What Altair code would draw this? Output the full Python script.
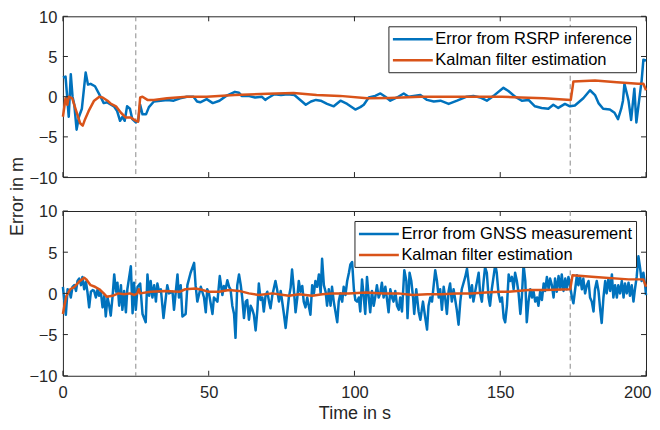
import altair as alt
import pandas as pd

BLUE = "#0072BD"
ORANGE = "#D95319"
AXC = "#262626"
KAL = "Kalman filter estimation"
RSRP_NAME = "Error from RSRP inference"
GNSS_NAME = "Error from GNSS measurement"

X_TICKS = [0, 50, 100, 150, 200]
Y_TICKS = [-10, -5, 0, 5, 10]
EVENT_LINES = [25, 174]

# ---- top panel: RSRP error ----
rsrp_t = [0, 0.9, 2.0, 2.7, 3.3, 3.9, 4.7, 5.5, 6.5, 7.8,
          8.6, 9.5, 11.0, 12.9, 14.0, 15.2, 17.5, 18.6, 19.6, 20.4,
          21.2, 22.0, 23.0, 23.8, 25.0, 25.8, 26.5, 27.3, 28.5, 29.5,
          31.2, 33.5, 35.8, 38.0, 40.2, 42.5, 44.8, 46.0, 47.1, 49.3,
          51.4, 53.7, 56.0, 59.0, 60.4, 61.3, 63.6, 65.9, 68.2, 69.4,
          70.2, 72.5, 74.8, 77.1, 79.4, 81.7, 83.3, 85.1, 86.8, 88.4,
          90.6, 92.9, 95.2, 97.5, 100.3, 102.0, 103.2, 104.9, 107.1, 108.9,
          110.6, 112.3, 114.6, 116.9, 118.6, 120.3, 122.6, 124.9, 127.2, 129.5,
          132.3, 135.2, 138.5, 140.8, 143.1, 145.4, 147.7, 151.1, 152.8, 155.1,
          157.4, 159.7, 161.9, 164.2, 166.5, 168.2, 169.9, 172.2, 173.9, 175.6,
          178.5, 180.8, 182.5, 183.7, 185.3, 187.6, 189.2, 190.4, 191.5, 192.1,
          192.6, 193.7, 194.0, 194.9, 196.0, 196.7, 197.8, 198.5, 199.1, 200.0]
rsrp_v = [2.4, 2.5, -2.5, 2.8, 0.0, -1.0, -4.1, -2.5, -1.5, 3.0,
          1.5, 1.6, 1.3, 0.0, -0.8, -0.7, -1.2, -1.8, -3.0, -2.5,
          -3.0, -1.2, -1.5, -2.8, -3.2, -3.0, -1.0, -2.2, -2.2, -1.3,
          -0.6, -0.5, -0.4, -0.5, -0.2, 0.0, 0.0, -0.6, -0.7, -0.3,
          -0.8, -0.5, 0.1, 0.6, 0.5, 0.1, 0.1, -0.1, 0.0, -0.4,
          -0.2, 0.3, 0.2, 0.3, 0.2, -0.5, -1.0, -0.6, -0.4, -0.5,
          -0.9, -1.2, -0.5, -0.9, -1.6, -1.3, -1.0, -0.1, 0.1, 0.4,
          0.0, -0.5, -0.1, 0.4, 0.0, 0.1, 0.2, -0.4, -0.6, -0.5,
          -0.9, -0.5, 0.0, 0.1, -0.1, -0.5, 0.1, 1.1, 0.7, 0.0,
          -0.5, -0.4, -1.2, -1.4, -1.5, -1.0, -1.4, -0.9, -1.2, -1.1,
          -0.2, 0.8, 0.2, -0.8, -1.5, -1.6, -2.0, -2.8, -1.5, -0.5,
          1.6, 0.0, -0.5, -2.9, 1.0, -3.2, 0.0, 2.0, 4.6, 4.5]

kal1_t = [0, 0.9, 1.5, 2.0, 3.2, 4.3, 5.9, 6.8, 7.6, 8.8,
          10.7, 12.5, 13.6, 15.3, 16.5, 18.2, 19.9, 21.6, 23.3, 25.0,
          25.8, 26.5, 27.3, 29.0, 31.2, 35.7, 42.5, 49.3, 58.9, 70.2,
          79.1, 87.0, 95.0, 104.4, 112.0, 122.6, 135.0, 150.5, 157.0, 165.0,
          174.2, 175.1, 182.5, 190.0, 197.3, 199.1, 200.0]
kal1_v = [-2.5, -0.2, -1.0, 0.0, -0.2, -1.5, -3.3, -3.6, -2.8, -1.8,
          -0.5, 0.0, -0.1, -0.5, -0.9, -1.2, -2.0, -2.6, -2.6, -3.0,
          -3.1, -0.1, 0.0, -0.4, -0.4, -0.2, 0.0, 0.0, 0.2, 0.35,
          0.45, 0.2, 0.1, -0.2, -0.15, 0.0, 0.0, 0.0, -0.1, -0.2,
          -0.4, 1.9, 2.0, 1.8, 1.6, 1.6, 0.8]

# ---- bottom panel: GNSS error ----
gnss_t = [0, 0.5, 1.0, 1.6, 2.2, 2.7, 3.3, 3.9, 4.5, 5.0,
          5.6, 6.2, 6.7, 7.3, 7.9, 8.4, 9.0, 9.6, 10.2, 10.7,
          11.3, 11.9, 12.4, 13.0, 13.6, 14.2, 14.7, 15.3, 15.9, 16.4,
          17.0, 17.6, 18.2, 18.7, 19.3, 19.9, 20.4, 21.0, 21.6, 22.1,
          23.3, 23.9, 24.4, 25.0, 25.6, 26.5, 27.3, 28.4, 29.0, 29.6,
          30.1, 30.7, 31.3, 31.9, 32.4, 33.0, 33.6, 34.5, 35.3, 35.8,
          36.4, 37.6, 38.1, 39.3, 39.8, 40.4, 41.0, 42.1, 42.7, 43.8,
          45.0, 45.5, 46.1, 47.3, 48.4, 49.0, 49.5, 50.1, 51.3, 51.8,
          53.0, 53.8, 54.7, 55.2, 55.8, 56.4, 57.0, 57.5, 58.1, 58.7,
          59.2, 59.8, 60.4, 61.0, 61.5, 62.1, 62.7, 63.2, 63.8, 64.4,
          65.0, 65.5, 66.1, 66.7, 67.2, 67.8, 68.4, 68.9, 69.5, 70.1,
          70.7, 71.2, 71.8, 72.9, 73.5, 74.1, 74.7, 75.8, 76.4, 76.9,
          77.5, 78.1, 78.6, 79.2, 79.8, 80.4, 80.9, 81.5, 82.1, 82.6,
          83.2, 83.8, 84.9, 85.5, 86.1, 86.6, 87.2, 87.8, 88.4, 88.9,
          89.5, 90.1, 90.6, 91.2, 91.8, 92.3, 92.9, 94.1, 94.6, 95.2,
          95.8, 96.3, 96.9, 97.5, 98.1, 98.6, 99.2, 99.8, 100.3, 100.9,
          101.5, 102.0, 102.6, 103.2, 103.7, 104.3, 104.9, 105.4, 106.0, 106.6,
          107.2, 107.7, 108.3, 108.9, 109.4, 110.0, 110.6, 111.2, 111.7, 112.3,
          112.9, 113.4, 114.0, 114.6, 115.2, 115.7, 116.3, 117.1, 117.8, 118.2,
          118.9, 119.5, 120.1, 120.5, 121.2, 122.0, 122.6, 123.5, 124.3, 124.9,
          125.4, 126.0, 126.6, 127.7, 128.3, 128.9, 129.4, 130.0, 130.6, 131.1,
          131.7, 132.3, 132.8, 133.4, 134.0, 135.1, 135.7, 136.3, 136.8, 138.0,
          138.6, 139.1, 139.7, 140.3, 140.8, 141.8, 142.6, 143.1, 143.7, 144.3,
          144.8, 145.4, 146.0, 146.5, 147.1, 147.7, 148.3, 148.8, 149.4, 150.0,
          150.6, 151.2, 151.7, 152.3, 152.9, 153.4, 154.0, 154.6, 155.1, 155.7,
          156.3, 156.9, 157.4, 158.0, 158.6, 159.1, 159.7, 160.3, 160.9, 161.4,
          162.0, 162.6, 163.1, 163.7, 164.3, 164.9, 165.4, 166.0, 166.6, 167.1,
          167.7, 168.3, 168.8, 169.4, 170.0, 170.6, 171.1, 171.7, 172.3, 172.8,
          173.4, 174.0, 174.6, 175.1, 175.7, 176.3, 176.8, 177.4, 178.0, 178.5,
          179.1, 179.7, 180.3, 180.8, 181.4, 182.0, 182.5, 183.1, 183.7, 184.3,
          184.8, 185.4, 186.0, 186.5, 187.1, 187.7, 188.3, 188.8, 189.4, 190.0,
          190.5, 191.1, 191.7, 192.3, 192.8, 193.4, 194.0, 194.5, 195.1, 195.7,
          196.2, 196.8, 197.4, 198.0, 198.5, 199.1, 199.7, 200.0]
gnss_v = [0.8, -1.0, -2.6, 0.5, 0.3, -0.5, 0.8, 1.0, 0.3, 1.5,
          1.8, 1.0, 2.0, 0.5, 1.4, 0.2, -1.7, 0.2, 0.4, 0.3,
          -0.5, 0.5, -0.3, 0.2, -1.7, -0.3, -2.8, -0.5, -1.5, -2.7,
          -0.5, 2.3, 0.2, 1.3, -1.5, 1.0, -2.0, 0.3, -2.3, 0.5,
          3.3, -2.4, 1.3, -2.0, 0.8, 1.2, -2.5, -3.5, 2.3, -0.3,
          1.5, -0.5, 1.0, -1.0, 1.2, 0.2, 0.5, -3.0, -0.5, 1.0,
          0.0, 0.2, -2.0, 2.3, -0.5, 1.0, -2.8, -2.5, 1.0, 2.5,
          3.7, 1.0, -1.0, 0.8, -0.5, -2.3, 0.5, 0.0, -2.5, -0.5,
          -1.0, 2.1, -0.2, 0.9, 0.5, 1.6, 0.8, 0.5, -1.5, -2.5,
          -5.4, 1.0, 2.3, 1.0, -0.5, -3.0, -1.0, -0.8, -3.2, -1.5,
          -2.0, -2.6, -4.5, -2.0, 1.2, -0.8, -0.5, -2.2, -0.3, 0.2,
          -1.0, -1.8, -0.3, 1.5, 0.4, -1.0, 0.3, -2.5, -4.2, -2.5,
          -0.5, 0.7, 2.9, 0.5, -2.3, -0.5, 1.5, 0.2, 0.9, -1.0,
          -1.7, -0.5, -2.6, 1.0, 0.0, 1.5, 0.8, 2.3, 0.0, 4.2,
          1.0, 0.2, -1.5, 0.5, -1.5, 0.8, -1.0, -3.5, -1.0, 0.0,
          -1.0, 0.8, -0.2, 1.5, 2.5, 3.5, 3.8, 0.5, -0.8, -1.0,
          -0.5, -2.2, 1.7, -0.5, -2.5, 2.0, -0.5, -2.3, 0.3, -1.5,
          -0.3, 1.0, -0.5, 0.1, 1.3, -0.5, 0.8, -0.8, -2.3, 0.5,
          -0.5, -1.0, 0.3, -1.5, -2.0, -0.5, -2.2, 2.8, 1.5, -3.0,
          2.5, 1.5, -0.5, -2.5, 0.5, -2.2, -3.2, -1.0, -3.0, -4.4,
          -1.5, -0.5, -1.0, 2.8, 1.5, -0.5, 0.5, -2.0, 0.8, -0.5,
          -2.5, 0.3, 1.2, -1.0, 0.5, -2.0, -3.8, -1.0, 0.5, 2.0,
          3.0, 1.5, -0.5, 1.0, -1.0, 1.0, 2.5, 0.0, -1.0, 1.5,
          3.2, 2.5, -0.5, -1.5, 0.5, 2.0, 3.5, 2.5, 0.0, -1.0,
          -0.5, -3.0, -3.5, -1.5, 2.3, 1.5, 2.0, 0.5, 2.5, 1.5,
          0.0, -2.5, -0.5, 3.5, 1.5, -3.5, -1.0, 0.5, -0.5, 0.3,
          -1.0, -0.5, -1.5, 0.2, -0.8, 1.2, 0.3, 2.0, 0.5, 1.8,
          1.0, -0.5, 1.8, 0.2, 2.1, 0.5, 2.3, 0.3, 1.8, 0.5,
          2.0, 0.8, -0.5, -1.2, 0.5, 2.2, 1.0, 2.0, 0.5, 1.8,
          0.0, 1.0, 1.5, -0.5, -1.0, -2.2, 0.5, 1.5, 0.3, -2.0,
          -3.6, -0.5, 1.5, 0.0, 1.8, 0.3, 2.3, -0.5, 1.0, -0.5,
          1.0, 0.0, 1.5, -0.5, 1.2, 0.0, 1.3, -0.3, 1.0, -1.0,
          0.5, 2.0, 4.5, 3.0, 1.5, 2.5, 1.0, -0.2]

kal2_t = [0, 0.5, 1.2, 2.5, 4.0, 5.5, 7.3, 8.0, 9.5, 11.0,
          12.5, 14.0, 15.0, 17.0, 19.0, 21.0, 23.0, 24.5, 25.5, 26.0,
          26.5, 30.0, 35.0, 40.0, 42.0, 45.5, 48.0, 50.0, 53.5, 57.0,
          60.4, 63.8, 67.2, 71.8, 77.5, 81.0, 85.5, 89.0, 92.3, 98.0,
          104.0, 110.0, 115.0, 120.0, 125.0, 130.0, 135.0, 140.0, 145.0, 150.0,
          152.9, 159.7, 165.4, 174.0, 174.8, 182.5, 194.0, 199.1, 200.0]
kal2_v = [-2.5, -1.5, -0.3, 0.5, 0.8, 1.4, 1.9, 1.7, 1.0, 0.8,
          0.5, 0.0, -0.4, -0.3, 0.0, -0.1, 0.0, -0.2, 0.0, 0.5,
          0.0, 0.2, 0.3, 0.2, 0.5, 0.6, 0.4, 0.2, 0.2, 0.4,
          0.3, 0.0, -0.2, 0.0, -0.3, -0.1, -0.3, -0.1, 0.0, 0.0,
          0.1, 0.0, 0.0, -0.2, -0.1, -0.1, 0.0, 0.0, 0.1, 0.2,
          0.2, 0.4, 0.4, 0.5, 2.2, 2.0, 1.7, 1.7, 0.8]

W = 584
H_TOP = 161
H_BOT = 165
GAP = 34
FONT = "Liberation Sans"
# legend line symbol: a 40px stroke starting at the left of the symbol slot
LEG_SYMBOL = "M-1,0H3.7"


def panel(mt, mv, kt, kv, mname, H, bottom):
    meas = pd.DataFrame({"t": mt, "v": mv, "series": mname})
    kal = pd.DataFrame({"t": kt, "v": kv, "series": KAL})

    xaxis = alt.Axis(values=X_TICKS, labels=bottom, title="Time in s" if bottom else None,
                     ticks=False, domain=False, grid=False, labelFlush=True,
                     labelFlushOffset=5, labelPadding=9, titlePadding=3,
                     labelFontSize=16.5, titleFontSize=18)
    if bottom:
        yaxis = alt.Axis(values=Y_TICKS, ticks=False, domain=False, grid=False,
                         labelPadding=6, labelBaseline="alphabetic", labelOffset=6,
                         labelFontSize=16.5, title=None)
    else:
        yaxis = alt.Axis(values=Y_TICKS, ticks=False, domain=False, grid=False,
                         labelPadding=6, labelBaseline="alphabetic", labelOffset=6,
                         labelFontSize=16.5, title="Error in m", titleFontSize=18,
                         titleX=-40, titleY=(H_TOP + GAP + H_BOT) / 2,
                         titleAlign="center", titleBaseline="alphabetic", titleAngle=270)
    x = alt.X("t:Q", scale=alt.Scale(domain=[0, 200], nice=False, zero=False), axis=xaxis)
    y = alt.Y("v:Q", scale=alt.Scale(domain=[-10, 10], nice=False), axis=yaxis)
    color = alt.Color(
        "series:N",
        scale=alt.Scale(domain=[mname, KAL], range=[BLUE, ORANGE]),
        legend=alt.Legend(title=None, orient="top-right", offset=10, symbolType=LEG_SYMBOL,
                          symbolSize=289, symbolStrokeWidth=2.5, labelFontSize=16.5,
                          labelFont=FONT, labelColor="#000000", strokeColor=AXC,
                          fillColor="white", padding=3, rowPadding=2, labelOffset=24,
                          cornerRadius=0, labelLimit=500),
    )

    vlines = alt.Chart(pd.DataFrame({"t": EVENT_LINES})).mark_rule(
        color="#8a8a8a", strokeDash=[5, 3.5], strokeWidth=1).encode(x=x)
    l_meas = alt.Chart(meas).mark_line(strokeWidth=2.5, strokeJoin="round").encode(
        x=x, y=y, color=color)
    l_kal = alt.Chart(kal).mark_line(strokeWidth=2.5, strokeJoin="round").encode(
        x=x, y=y, color=color)

    xt = pd.DataFrame({"t": X_TICKS})
    yt = pd.DataFrame({"v": Y_TICKS})
    tk = dict(color=AXC, strokeWidth=1)
    t_bot = alt.Chart(xt).mark_rule(**tk).encode(x=x, y=alt.value(H), y2=alt.value(H - 5))
    t_top = alt.Chart(xt).mark_rule(**tk).encode(x=x, y=alt.value(0), y2=alt.value(5))
    t_left = alt.Chart(yt).mark_rule(**tk).encode(y=y, x=alt.value(0), x2=alt.value(5))
    t_right = alt.Chart(yt).mark_rule(**tk).encode(y=y, x=alt.value(W), x2=alt.value(W - 5))

    return alt.layer(vlines, l_meas, l_kal, t_bot, t_top, t_left, t_right).properties(
        width=W, height=H)


top = panel(rsrp_t, rsrp_v, kal1_t, kal1_v, RSRP_NAME, H_TOP, False)
bot = panel(gnss_t, gnss_v, kal2_t, kal2_v, GNSS_NAME, H_BOT, True)

chart = (
    alt.vconcat(top, bot, spacing=GAP, bounds="flush")
    .resolve_scale(color="independent")
    .resolve_legend(color="independent")
    .properties(padding={"left": 0, "top": 0, "right": 0, "bottom": 0})
    .configure(font=FONT)
    .configure_view(stroke=AXC, strokeWidth=1)
    .configure_axis(labelColor=AXC, titleColor=AXC, labelFont=FONT, titleFont=FONT,
                    titleFontWeight="normal")
)

chart.save("out.html", embed_options={"renderer": "svg", "actions": False})
